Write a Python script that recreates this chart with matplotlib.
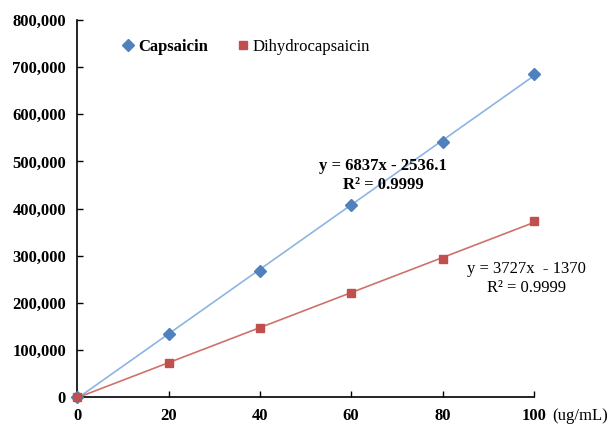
import numpy as np
import matplotlib
matplotlib.use('Agg')
import matplotlib.pyplot as plt
from matplotlib.ticker import FuncFormatter

conc = [0, 20, 40, 60, 80, 100]
capsaicin = [0, 133700, 267500, 407500, 541500, 685500]
dihydro = [0, 72500, 146500, 221000, 293500, 373000]

plt.rcParams['font.family'] = ['Liberation Serif', 'DejaVu Serif']

fig = plt.figure(figsize=(6.08, 4.26), dpi=100)
ax = fig.add_axes([0.127, 0.068, 0.751, 0.885])

xs = np.array([0, 100])
for ys, line_c in ((capsaicin, '#8db4e2'), (dihydro, '#d0706d')):
    k, b = np.polyfit(conc, ys, 1)
    ax.plot(xs, k * xs + b, color=line_c, lw=1.2, zorder=2)

ax.plot(conc, capsaicin, 'D', color='#4f81bd', ms=6, label='Capsaicin', zorder=3)
ax.plot(conc, dihydro, 's', color='#c0504d', ms=6, label='Dihydrocapsaicin', zorder=3)

ax.set_xlim(0, 100)
ax.set_ylim(0, 800000)
ax.set_xticks(range(0, 101, 20))
ax.set_yticks(range(0, 800001, 100000))
ax.yaxis.set_major_formatter(FuncFormatter(lambda v, p: f'{int(v):,}'))
ax.tick_params(direction='in', length=4, width=1, labelsize=12, pad=8)
for lbl in ax.get_xticklabels() + ax.get_yticklabels():
    lbl.set_fontweight('bold')
for s in ('top', 'right'):
    ax.spines[s].set_visible(False)
for s in ('left', 'bottom'):
    ax.spines[s].set_linewidth(1.2)
for ln in ax.lines:
    ln.set_clip_on(False)

# unit label sits right after the last x tick label
ax.annotate('(ug/mL)', xy=(1, 0), xycoords='axes fraction', xytext=(13, -8),
            textcoords='offset points', fontsize=12, va='top', ha='left')

leg = ax.legend(loc='upper left', bbox_to_anchor=(0.06, 0.99), ncol=2, frameon=False,
                fontsize=12, handletextpad=0.1, columnspacing=1.6, handlelength=1)
leg.get_texts()[0].set_fontweight('bold')

ax.text(67, 508000, 'y = 6837x - 2536.1\nR² = 0.9999', fontsize=12, fontweight='bold',
        ha='center', va='top', linespacing=1.25)
ax.text(98.3, 288000, 'y = 3727x  - 1370\nR² = 0.9999', fontsize=12,
        ha='center', va='top', linespacing=1.25)

fig.savefig('out.png', dpi=100)
